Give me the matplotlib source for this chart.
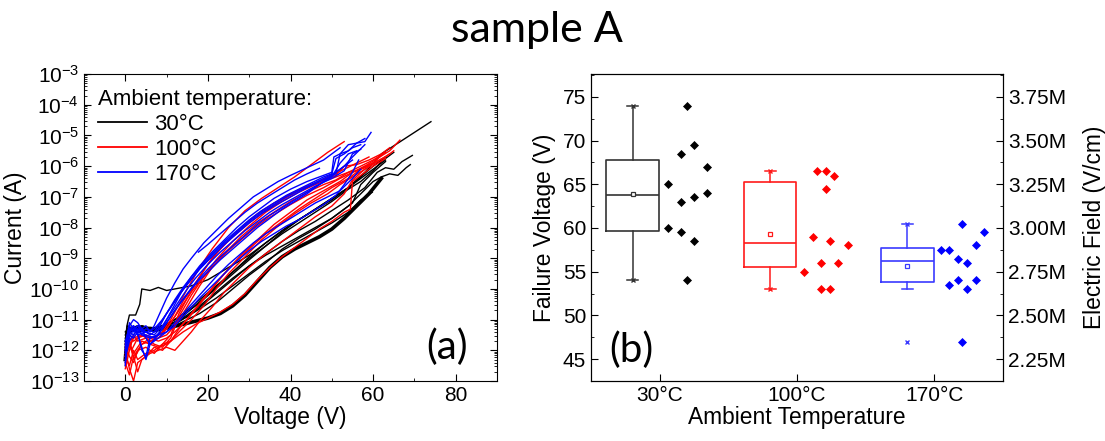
import numpy as np
import matplotlib
matplotlib.use("Agg")
import matplotlib.pyplot as plt
from matplotlib.lines import Line2D
from matplotlib.ticker import LogLocator, MultipleLocator, FuncFormatter, NullFormatter

plt.rcParams['font.family'] = ['Liberation Sans', 'DejaVu Sans']

# ---- (a) I-V curves, voltage (V) and log10(current / A) ----
curves_30 = [
    ([0, 0.4, 1, 2.5, 3.5, 4, 6, 8, 10, 12, 14, 16, 20, 25, 30, 35, 40, 45, 50, 55, 60, 63],
     [-11.7, -11.2, -10.85, -10.85, -10.5, -10.0, -10.05, -9.95, -10.05, -10.0, -9.95, -9.9, -9.7, -9.3, -8.9, -8.4, -7.9, -7.5, -7.1, -6.6, -6.1, -5.8]),
    ([0, 1, 3, 6, 9, 12, 15, 18, 22, 26, 30, 34, 38, 42, 46, 50, 53, 55, 57, 60, 63],
     [-11.7, -11.35, -11.3, -11.25, -11.3, -11.2, -11.0, -10.8, -10.45, -10.0, -9.55, -9.15, -8.7, -8.35, -8.05, -7.7, -7.4, -7.2, -6.6, -6.2, -5.85]),
    ([0, 0.5, 2, 4, 6, 8, 10, 12, 15, 18, 21, 24, 27, 30, 34, 38, 42, 46, 50, 54, 57, 60, 63],
     [-11.8, -11.2, -11.3, -11.2, -11.3, -11.25, -11.15, -11.0, -10.75, -10.45, -10.1, -9.75, -9.4, -9.05, -8.6, -8.15, -7.75, -7.4, -7.05, -6.7, -6.35, -6.0, -5.7]),
    ([0, 0.5, 2, 4, 7, 10, 13, 16, 19, 22, 26, 30, 34, 38, 42, 46, 50, 54, 58, 62, 66, 70, 74],
     [-11.5, -11.3, -11.35, -11.2, -11.3, -11.2, -11.0, -10.65, -10.3, -9.95, -9.45, -8.95, -8.5, -8.1, -7.75, -7.4, -7.05, -6.7, -6.2, -5.6, -5.25, -4.9, -4.55]),
    ([0, 1, 3, 6, 9, 12, 15, 18, 22, 26, 30, 34, 38, 42, 46, 50, 54, 58, 61, 63, 65, 67, 69.5],
     [-11.9, -11.4, -11.3, -11.35, -11.3, -11.15, -10.9, -10.6, -10.15, -9.7, -9.25, -8.85, -8.45, -8.1, -7.8, -7.45, -7.1, -6.7, -6.2, -6.05, -6.1, -5.85, -5.65]),
    ([0, 1, 3, 6, 9, 12, 15, 18, 22, 26, 30, 34, 38, 42, 46, 50, 54, 57, 60, 62, 64, 66, 68, 69],
     [-11.6, -11.3, -11.4, -11.3, -11.25, -11.1, -10.85, -10.55, -10.1, -9.65, -9.25, -8.9, -8.6, -8.3, -8.0, -7.7, -7.3, -6.9, -6.5, -6.35, -6.25, -6.3, -6.05, -5.95]),
    ([0, 1, 3, 6, 9, 12, 15, 18, 22, 26, 30, 34, 38, 42, 46, 50, 54, 57, 59.8],
     [-11.4, -11.25, -11.3, -11.3, -11.2, -11.1, -10.9, -10.65, -10.3, -9.9, -9.5, -9.1, -8.75, -8.45, -8.15, -7.85, -7.5, -7.1, -6.85]),
    ([0, 1, 3, 6, 9, 12, 15, 18, 22, 26, 30, 34, 38, 42, 46, 50, 54, 57, 60, 62, 65],
     [-12.0, -11.3, -11.2, -11.3, -11.2, -11.0, -10.7, -10.35, -9.9, -9.45, -9.0, -8.6, -8.2, -7.85, -7.5, -7.15, -6.75, -6.5, -6.15, -5.85, -5.55]),
]
# the bundle of overlapping 30°C sweeps at the bottom of the band
curve_30_thick = (
    [0, 0.5, 1.5, 3, 5, 7, 9, 11, 14, 17, 20, 23, 26, 29, 32, 35, 38, 41, 44, 47, 50, 53, 56, 59, 62],
    [-12.3, -11.5, -11.3, -11.25, -11.3, -11.35, -11.3, -11.25, -11.15, -11.05, -10.95, -10.8, -10.55, -10.2, -9.75, -9.3, -8.95, -8.7, -8.5, -8.3, -8.05, -7.7, -7.3, -6.9, -6.4])

curves_100 = [
    ([0, 0.5, 1.5, 3, 5, 7, 9, 11, 13, 15, 18, 21, 25, 29, 33, 37, 41, 45, 49, 53],
     [-12.2, -11.6, -12.0, -11.6, -11.5, -11.6, -11.4, -11.0, -10.5, -10.0, -9.3, -8.7, -8.0, -7.45, -7.05, -6.7, -6.35, -5.95, -5.55, -5.2]),
    ([0, 1, 2, 4, 6, 8, 10, 12, 15, 18, 21, 24, 28, 32, 36, 40, 44, 48, 52, 55, 58, 61, 64, 66.5],
     [-12.5, -11.6, -12.3, -11.8, -11.6, -11.7, -11.6, -11.4, -11.0, -10.5, -10.0, -9.5, -8.9, -8.4, -7.9, -7.5, -7.1, -6.8, -6.5, -6.2, -6.0, -5.75, -5.5, -5.15]),
    ([0, 1, 2, 3, 5, 7, 9, 11, 13, 16, 19, 22, 26, 30, 34, 38, 42, 46, 50, 54, 57, 60, 63, 65],
     [-12.0, -12.6, -13.0, -12.4, -12.2, -11.9, -12.0, -11.7, -11.3, -10.8, -10.3, -9.8, -9.2, -8.7, -8.2, -7.8, -7.4, -7.05, -6.7, -6.4, -6.1, -5.9, -5.7, -5.5]),
    ([0, 1, 2, 4, 6, 8, 10, 12, 14, 17, 20, 23, 26, 29, 32, 35, 38, 41, 44, 47, 50, 53, 54.5, 55, 57, 60, 63],
     [-12.3, -11.8, -12.1, -11.7, -11.8, -11.9, -11.8, -11.6, -11.4, -11.15, -10.95, -10.75, -10.5, -10.15, -9.7, -9.3, -8.95, -8.65, -8.35, -8.05, -7.8, -7.5, -7.4, -6.5, -6.3, -6.0, -5.75]),
    ([0, 1, 2, 3, 5, 7, 9, 11, 13, 15, 18, 21, 24, 28, 32, 36, 40, 44, 48, 51, 53, 56, 59, 62, 64],
     [-11.8, -12.2, -12.4, -12.0, -11.9, -12.1, -11.8, -11.5, -10.8, -10.3, -9.6, -9.0, -8.55, -8.0, -7.55, -7.2, -6.9, -6.65, -6.45, -6.3, -6.0, -5.95, -5.8, -5.6, -5.4]),
    ([0, 1, 2, 4, 6, 8, 10, 12, 14, 16, 19, 22, 25, 28, 31, 34, 37, 40, 44, 48, 52, 55, 58, 60],
     [-12.1, -11.9, -11.6, -11.5, -11.6, -11.5, -11.3, -10.9, -10.5, -10.1, -9.6, -9.15, -8.75, -8.4, -8.05, -7.75, -7.5, -7.25, -6.95, -6.7, -6.4, -6.2, -6.05, -5.9]),
    ([0, 1, 2, 3, 5, 7, 9, 11, 13, 16, 19, 22, 26, 30, 34, 38, 42, 46, 50, 54, 56, 58, 60, 62],
     [-12.6, -12.0, -11.5, -11.7, -11.6, -11.8, -11.9, -11.6, -10.9, -10.2, -9.6, -9.05, -8.45, -7.95, -7.5, -7.15, -6.85, -6.6, -6.4, -6.2, -6.15, -6.0, -5.9, -5.65]),
    ([0, 1, 2, 3, 4, 6, 8, 10, 12, 14, 16, 18, 21, 24, 27, 30, 34, 38, 42, 46, 50, 53, 55, 58, 61, 64],
     [-12.4, -12.8, -12.2, -12.7, -12.3, -12.1, -12.0, -11.9, -12.0, -11.7, -11.4, -11.05, -10.6, -10.1, -9.7, -9.3, -8.85, -8.45, -8.05, -7.65, -7.3, -6.9, -6.45, -6.1, -5.85, -5.6]),
    ([0, 1, 2, 4, 6, 8, 10, 12, 14, 16, 18, 21, 24, 28, 32, 36, 40, 44, 48, 51, 54, 57, 60, 63],
     [-11.9, -11.6, -11.7, -11.5, -11.7, -11.6, -11.5, -11.2, -10.8, -10.35, -9.9, -9.3, -8.85, -8.3, -7.85, -7.5, -7.15, -6.85, -6.6, -6.45, -6.2, -6.0, -5.8, -5.55]),
    ([0, 1, 2, 3, 5, 7, 9, 11, 13, 16, 19, 22, 25, 29, 33, 37, 41, 45, 49, 52, 55, 58, 61],
     [-12.2, -12.5, -12.0, -12.3, -12.1, -12.0, -11.8, -11.7, -11.4, -11.0, -10.55, -10.0, -9.5, -8.95, -8.4, -7.95, -7.55, -7.2, -6.9, -6.6, -6.35, -6.1, -5.85]),
    ([0, 1, 2, 4, 6, 8, 10, 12, 14, 17, 20, 23, 26, 30, 34, 38, 42, 46, 50, 53, 56, 59],
     [-12.0, -11.8, -12.2, -11.8, -11.7, -11.6, -11.3, -10.9, -10.4, -9.8, -9.2, -8.7, -8.3, -7.85, -7.45, -7.1, -6.8, -6.55, -6.3, -6.1, -5.9, -5.7]),
]

curves_170 = [
    ([17.7, 20, 23, 26, 29, 32, 35, 38, 41, 44, 47],
     [-8.8, -8.55, -8.2, -7.85, -7.5, -7.2, -6.95, -6.7, -6.45, -6.25, -6.07]),
    ([0, 0.5, 1, 2, 3, 4, 5, 6, 7, 8, 10, 12, 14, 16, 19, 22, 25, 28, 31, 34, 37, 40, 44, 48, 52],
     [-12.5, -11.5, -11.2, -11.0, -11.1, -11.3, -11.2, -11.4, -11.2, -10.9, -10.3, -9.8, -9.35, -9.0, -8.5, -8.1, -7.7, -7.35, -7.0, -6.75, -6.5, -6.3, -6.05, -5.8, -5.4]),
    ([0, 0.5, 1, 2, 3, 4, 5, 6, 8, 10, 12, 14, 16, 18, 21, 24, 27, 30, 33, 36, 40, 44, 48, 50, 50.5, 52, 54, 56, 58],
     [-12.4, -11.8, -11.3, -11.4, -11.2, -11.3, -11.6, -11.8, -11.5, -11.0, -10.5, -10.0, -9.6, -9.25, -8.8, -8.4, -8.0, -7.65, -7.35, -7.05, -6.75, -6.5, -6.3, -6.2, -5.7, -5.6, -5.3, -5.25, -5.1]),
    ([0, 1, 2, 3, 4, 5, 7, 9, 11, 13, 15, 18, 21, 24, 27, 30, 33, 36, 40, 44, 48, 51, 52, 54, 56, 58, 59.5],
     [-11.9, -11.1, -11.3, -11.2, -11.4, -11.3, -11.4, -11.0, -10.6, -10.2, -9.85, -9.35, -8.95, -8.55, -8.2, -7.85, -7.55, -7.3, -7.0, -6.7, -6.45, -6.25, -5.6, -5.5, -5.25, -5.2, -4.9]),
    ([0, 0.5, 1, 2, 3, 5, 7, 9, 11, 13, 15, 17, 20, 23, 26, 29, 32, 35, 38, 42, 46, 50, 53, 55, 57],
     [-12.1, -11.6, -11.4, -11.5, -11.3, -11.4, -11.5, -11.2, -10.8, -10.4, -10.0, -9.65, -9.2, -8.8, -8.45, -8.1, -7.8, -7.5, -7.25, -6.95, -6.65, -6.4, -6.15, -5.6, -5.45]),
    ([0, 1, 2, 3, 4, 5, 6, 8, 10, 12, 14, 16, 19, 22, 25, 28, 31, 34, 37, 40, 43, 46, 49, 52, 55, 57],
     [-12.3, -11.4, -11.2, -11.4, -12.0, -12.2, -11.6, -11.5, -11.4, -11.1, -10.8, -10.5, -10.05, -9.6, -9.2, -8.85, -8.5, -8.2, -7.95, -7.7, -7.45, -7.2, -7.0, -6.8, -6.4, -6.1]),
    ([0, 1, 2, 3, 4, 6, 8, 10, 12, 14, 16, 18, 21, 24, 27, 30, 33, 36, 39, 42, 45, 48, 50, 51, 53, 55, 57],
     [-11.7, -11.3, -11.2, -11.4, -11.3, -11.5, -11.3, -10.8, -10.35, -9.95, -9.6, -9.3, -8.85, -8.45, -8.1, -7.75, -7.45, -7.2, -6.95, -6.75, -6.55, -6.35, -6.25, -5.75, -5.6, -5.4, -5.3]),
    ([0, 1, 2, 3, 5, 7, 9, 11, 13, 15, 17, 20, 23, 26, 29, 32, 35, 38, 41, 44, 47, 50, 52, 54, 56],
     [-12.0, -11.5, -11.6, -11.4, -11.5, -11.6, -11.3, -10.9, -10.5, -10.15, -9.8, -9.35, -8.95, -8.6, -8.25, -7.9, -7.6, -7.35, -7.1, -6.85, -6.6, -6.35, -5.9, -5.6, -5.5]),
    ([0, 1, 2, 3, 4, 6, 8, 10, 12, 14, 16, 18, 20, 23, 26, 29, 32, 35, 38, 41, 44, 47, 50, 53, 55, 58],
     [-12.2, -11.7, -11.5, -11.3, -11.5, -11.6, -11.5, -11.1, -10.7, -10.35, -10.0, -9.7, -9.45, -9.05, -8.7, -8.35, -8.0, -7.7, -7.4, -7.15, -6.9, -6.6, -6.3, -6.0, -5.7, -5.3]),
    ([0, 1, 2, 3, 5, 7, 9, 11, 13, 15, 18, 21, 24, 27, 30, 33, 36, 39, 42, 45, 48, 51, 53, 55],
     [-11.8, -11.4, -11.3, -11.5, -11.4, -11.3, -11.0, -10.6, -10.2, -9.85, -9.35, -8.9, -8.5, -8.15, -7.8, -7.5, -7.25, -7.0, -6.8, -6.6, -6.4, -6.2, -6.0, -5.8]),
    ([0, 1, 2, 3, 4, 5, 6, 8, 10, 12, 14, 16, 18, 21, 24, 27, 30, 33, 36, 39, 42, 45, 48, 51, 53, 55, 56.5],
     [-12.0, -11.6, -11.3, -11.5, -11.9, -12.3, -11.8, -11.6, -11.4, -11.2, -10.9, -10.6, -10.3, -9.9, -9.5, -9.1, -8.75, -8.45, -8.2, -7.95, -7.75, -7.5, -7.25, -6.95, -6.6, -6.2, -5.8]),
]

# ---- (b) failure voltages ----
temps = ['30°C', '100°C', '170°C']
vfail_30 = [74.0, 68.5, 69.5, 67.0, 65.0, 63.0, 63.5, 64.0, 60.0, 59.5, 58.5, 54.0]
jit_30 = [1.20, 1.155, 1.25, 1.346, 1.06, 1.155, 1.25, 1.346, 1.06, 1.155, 1.25, 1.20]
vfail_100 = [66.5, 66.5, 66.0, 64.5, 59.0, 58.5, 58.0, 55.0, 56.0, 56.0, 53.0, 53.0]
jit_100 = [2.144, 2.21, 2.272, 2.21, 2.114, 2.24, 2.368, 2.049, 2.177, 2.302, 2.177, 2.24]
vfail_170 = [60.5, 59.5, 58.0, 57.5, 57.5, 56.5, 56.0, 54.0, 54.0, 53.5, 53.0, 47.0]
jit_170 = [3.204, 3.362, 3.30, 3.046, 3.109, 3.172, 3.237, 3.172, 3.30, 3.109, 3.237, 3.204]

# box statistics as drawn in the figure
box_q1 = [59.7, 55.5, 53.8]
box_med = [63.75, 58.25, 56.25]
box_q3 = [67.75, 65.25, 57.75]
box_mean = [63.9, 59.3, 55.6]
whisk_lo = [54.0, 53.0, 53.0]
whisk_hi = [74.0, 66.5, 60.5]

colors = ['black', '#ff0000', '#0000ff']
box_colors = ['#333333', '#ff1a1a', '#3a3aff']

fig = plt.figure(figsize=(11.05, 4.41), dpi=100)
ax = fig.add_axes([0.076, 0.136, 0.3738, 0.696])
axb = fig.add_axes([0.5348, 0.136, 0.3729, 0.696])

# ---------- panel (a) ----------
for v, li in curves_30:
    ax.plot(v, 10 ** np.array(li), color='black', lw=1.0)
ax.plot(curve_30_thick[0], 10 ** np.array(curve_30_thick[1]), color='black', lw=2.6)
for v, li in curves_100:
    ax.plot(v, 10 ** np.array(li), color='#ff0000', lw=1.0)
for v, li in curves_170:
    ax.plot(v, 10 ** np.array(li), color='#0000ff', lw=1.0)

ax.set_yscale('log')
ax.set_xlim(-10, 90)
ax.set_ylim(1e-13, 1e-3)
ax.yaxis.set_major_locator(LogLocator(base=10, numticks=20))
ax.yaxis.set_minor_locator(LogLocator(base=10, subs=np.arange(2, 10), numticks=100))
ax.yaxis.set_minor_formatter(NullFormatter())
ax.xaxis.set_major_locator(MultipleLocator(20))
ax.xaxis.set_minor_locator(MultipleLocator(10))
ax.tick_params(which='both', direction='in', top=True, right=True, labelsize=15)
ax.tick_params(which='major', length=5)
ax.tick_params(which='minor', length=2.5)
ax.set_xlabel('Voltage (V)', fontsize=16.4, labelpad=1)
ax.set_ylabel('Current (A)', fontsize=16.4, labelpad=2)

handles = [Line2D([], [], color=c, lw=1.3) for c in colors]
leg = ax.legend(handles, temps, title='Ambient temperature:', loc='upper left',
                frameon=False, fontsize=16, title_fontsize=16, alignment='left',
                handlelength=2.2, handletextpad=0.3, labelspacing=0.19,
                borderaxespad=0.35, borderpad=0.3)
ax.text(0.93, 0.05, '(a)', transform=ax.transAxes, ha='right', va='bottom',
        fontsize=29, family=['Lato', 'DejaVu Sans'])

# ---------- panel (b) ----------
positions = [0.804, 1.804, 2.804]
vfails = [vfail_30, vfail_100, vfail_170]
jits = [jit_30, jit_100, jit_170]
for i in range(3):
    c = box_colors[i]
    st = dict(med=box_med[i], q1=box_q1[i], q3=box_q3[i], mean=box_mean[i],
              whislo=whisk_lo[i], whishi=whisk_hi[i], fliers=[])
    axb.bxp([st], positions=[positions[i]], widths=0.384, capwidths=0.08,
            showmeans=True, showfliers=False,
            boxprops=dict(color=c, lw=1.2), whiskerprops=dict(color=c, lw=1.1),
            capprops=dict(color=c, lw=1.1), medianprops=dict(color=c, lw=1.2),
            meanprops=dict(marker='s', markersize=3.0, markerfacecolor='white',
                           markeredgecolor=c, markeredgewidth=0.9))
    # min / max markers
    axb.plot([positions[i], positions[i]], [min(vfails[i]), max(vfails[i])], ls='none',
             marker='x', color=box_colors[i], markersize=3.5, markeredgewidth=1.0)
    axb.plot(jits[i], vfails[i], ls='none', marker='D', markersize=4.4,
             color=colors[i], markeredgewidth=0.5)

axb.set_xlim(0.5, 3.5)
axb.set_ylim(42.5, 77.6)
axb.set_xticks([1, 2, 3])
axb.set_xticklabels(temps)
axb.yaxis.set_major_locator(MultipleLocator(5))
axb.yaxis.set_minor_locator(MultipleLocator(2.5))
axb.tick_params(which='both', direction='in', labelsize=15)
axb.tick_params(which='major', length=5)
axb.tick_params(which='minor', length=2.5)
axb.set_xlabel('Ambient Temperature', fontsize=16.4, labelpad=1)
axb.set_ylabel('Failure Voltage (V)', fontsize=16.4, labelpad=5)
axb.text(0.045, 0.04, '(b)', transform=axb.transAxes, ha='left', va='bottom',
         fontsize=29, family=['Lato', 'DejaVu Sans'])

ax2 = axb.twinx()
ax2.set_ylim(axb.get_ylim())
ax2.yaxis.set_major_locator(MultipleLocator(5))
ax2.yaxis.set_minor_locator(MultipleLocator(2.5))
ax2.yaxis.set_major_formatter(FuncFormatter(lambda v, p: f'{v * 0.05:.2f}M'))
ax2.tick_params(which='both', direction='in', labelsize=15)
ax2.tick_params(which='major', length=5)
ax2.tick_params(which='minor', length=2.5)
ax2.set_ylabel('Electric Field (V/cm)', fontsize=16.4, labelpad=12)

fig.text(0.486, 0.905, 'sample A', ha='center', va='baseline', fontsize=31,
         family=['Lato', 'DejaVu Sans'])

fig.savefig('out.png', dpi=100)
